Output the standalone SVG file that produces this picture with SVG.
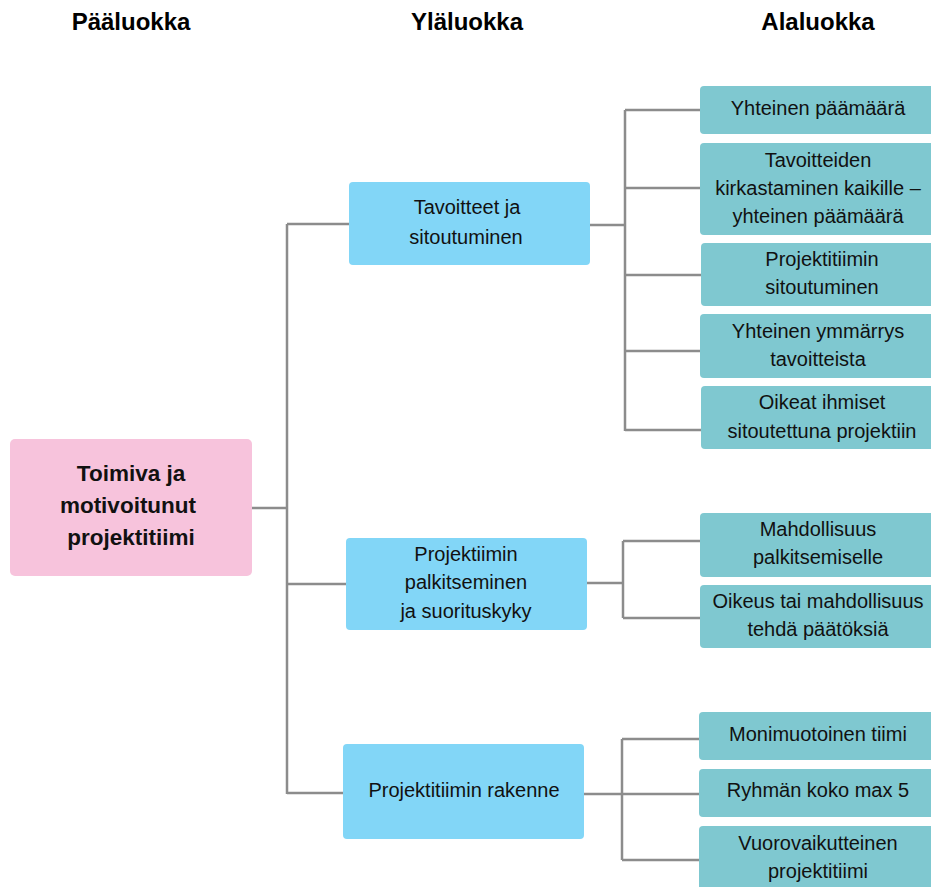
<svg xmlns="http://www.w3.org/2000/svg" width="931" height="887" viewBox="0 0 931 887">
  <style>
    .hdr { font-family: "Liberation Sans", Arial, sans-serif; font-weight: bold; font-size: 24px; fill: #000; text-anchor: middle; }
    .t { font-family: "Liberation Sans", Arial, sans-serif; font-size: 20px; fill: #111; text-anchor: middle; }
    .tb { font-family: "Liberation Sans", Arial, sans-serif; font-size: 22.5px; font-weight: bold; fill: #111; text-anchor: middle; }
    .root { fill: #f7c3dc; }
    .mid { fill: #82d6f7; }
    .leaf { fill: #7fc8d0; }
    .conn line { stroke: #8c8c8c; stroke-width: 2.5; }
  </style>

  <!-- column headers -->
  <text class="hdr" x="131" y="30">Pääluokka</text>
  <text class="hdr" x="467" y="30">Yläluokka</text>
  <text class="hdr" x="818" y="30">Alaluokka</text>

  <!-- connectors -->
  <g class="conn">
    <line x1="252" y1="508" x2="287" y2="508"/>
    <line x1="287" y1="224" x2="287" y2="794"/>
    <line x1="287" y1="224" x2="349" y2="224"/>
    <line x1="287" y1="584" x2="346" y2="584"/>
    <line x1="287" y1="793" x2="343" y2="793"/>

    <line x1="590" y1="225" x2="625" y2="225"/>
    <line x1="625" y1="110" x2="625" y2="431"/>
    <line x1="625" y1="110" x2="700" y2="110"/>
    <line x1="625" y1="188" x2="700" y2="188"/>
    <line x1="625" y1="275" x2="701" y2="275"/>
    <line x1="625" y1="351" x2="700" y2="351"/>
    <line x1="625" y1="430" x2="701" y2="430"/>

    <line x1="587" y1="583" x2="623" y2="583"/>
    <line x1="623" y1="541" x2="623" y2="618"/>
    <line x1="623" y1="541" x2="700" y2="541"/>
    <line x1="623" y1="618" x2="700" y2="618"/>

    <line x1="584" y1="794" x2="622" y2="794"/>
    <line x1="622" y1="739" x2="622" y2="860"/>
    <line x1="622" y1="739" x2="700" y2="739"/>
    <line x1="622" y1="794" x2="700" y2="794"/>
    <line x1="622" y1="860" x2="700" y2="860"/>
  </g>

  <!-- main class -->
  <g id="root">
    <rect class="root" x="10" y="439" width="242" height="137" rx="5"/>
    <text class="tb" x="131" y="481">Toimiva ja</text>
    <text class="tb" x="128" y="513">motivoitunut</text>
    <text class="tb" x="131" y="545">projektitiimi</text>
  </g>

  <!-- upper classes -->
  <g id="mid-tavoitteet">
    <rect class="mid" x="349" y="182" width="241" height="83" rx="4"/>
    <text class="t" x="467" y="214">Tavoitteet ja</text>
    <text class="t" x="466" y="244">sitoutuminen</text>
  </g>
  <g id="mid-palkitseminen">
    <rect class="mid" x="346" y="538" width="241" height="92" rx="4"/>
    <text class="t" x="466" y="561">Projektiimin</text>
    <text class="t" x="466" y="589">palkitseminen</text>
    <text class="t" x="466" y="618">ja suorituskyky</text>
  </g>
  <g id="mid-rakenne">
    <rect class="mid" x="343" y="744" width="241" height="95" rx="4"/>
    <text class="t" x="464" y="797">Projektitiimin rakenne</text>
  </g>

  <!-- sub classes -->
  <g id="leaf-1">
    <rect class="leaf" x="700" y="86" width="240" height="48" rx="4"/>
    <text class="t" x="818" y="115">Yhteinen päämäärä</text>
  </g>
  <g id="leaf-2">
    <rect class="leaf" x="700" y="143" width="240" height="92" rx="4"/>
    <text class="t" x="818" y="167">Tavoitteiden</text>
    <text class="t" x="818" y="195">kirkastaminen kaikille –</text>
    <text class="t" x="818" y="223">yhteinen päämäärä</text>
  </g>
  <g id="leaf-3">
    <rect class="leaf" x="701" y="243" width="240" height="63" rx="4"/>
    <text class="t" x="822" y="266">Projektitiimin</text>
    <text class="t" x="822" y="294">sitoutuminen</text>
  </g>
  <g id="leaf-4">
    <rect class="leaf" x="700" y="314" width="240" height="64" rx="4"/>
    <text class="t" x="818" y="338">Yhteinen ymmärrys</text>
    <text class="t" x="818" y="366">tavoitteista</text>
  </g>
  <g id="leaf-5">
    <rect class="leaf" x="701" y="386" width="240" height="63" rx="4"/>
    <text class="t" x="822" y="409">Oikeat ihmiset</text>
    <text class="t" x="822" y="438">sitoutettuna projektiin</text>
  </g>
  <g id="leaf-6">
    <rect class="leaf" x="700" y="513" width="240" height="64" rx="4"/>
    <text class="t" x="818" y="536">Mahdollisuus</text>
    <text class="t" x="818" y="564">palkitsemiselle</text>
  </g>
  <g id="leaf-7">
    <rect class="leaf" x="700" y="585" width="240" height="63" rx="4"/>
    <text class="t" x="818" y="608">Oikeus tai mahdollisuus</text>
    <text class="t" x="818" y="636">tehdä päätöksiä</text>
  </g>
  <g id="leaf-8">
    <rect class="leaf" x="699" y="712" width="240" height="48" rx="4"/>
    <text class="t" x="818" y="741">Monimuotoinen tiimi</text>
  </g>
  <g id="leaf-9">
    <rect class="leaf" x="699" y="769" width="240" height="48" rx="4"/>
    <text class="t" x="818" y="797">Ryhmän koko max 5</text>
  </g>
  <g id="leaf-10">
    <rect class="leaf" x="699" y="826" width="240" height="70" rx="4"/>
    <text class="t" x="818" y="850">Vuorovaikutteinen</text>
    <text class="t" x="818" y="878">projektitiimi</text>
  </g>
</svg>
